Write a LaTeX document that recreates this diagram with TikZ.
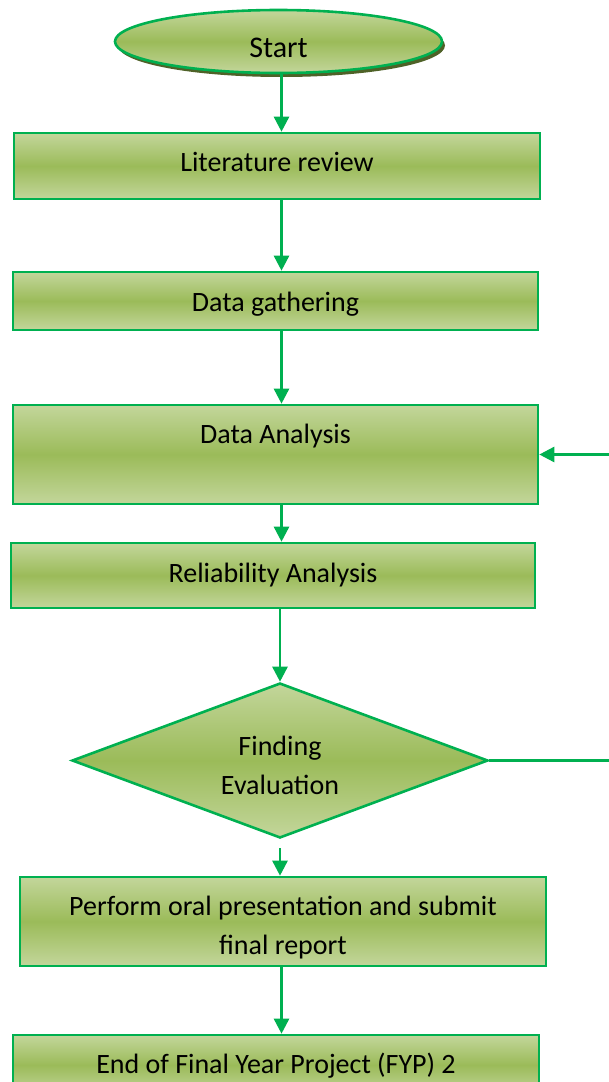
\documentclass[tikz,border=0pt]{standalone}
\usepackage{fontspec}
\setmainfont{Carlito}
\usetikzlibrary{arrows.meta,positioning,shapes.geometric,shadows}
\definecolor{fygreen}{RGB}{0,176,80}
\definecolor{lightolive}{RGB}{195,214,155}
\definecolor{olive}{RGB}{155,187,89}
\definecolor{darkolive}{RGB}{79,98,40}
\tikzset{olivefill/.style={top color=lightolive, bottom color=lightolive, middle color=olive}}
\tikzset{stepbox/.style={rectangle, draw=fygreen, line width=2.6pt, olivefill, inner sep=0pt, font=\fontsize{28}{39}\selectfont}}
\tikzset{startbox/.style={ellipse, draw=fygreen, line width=2.6pt, olivefill, inner sep=0pt, font=\fontsize{30}{36}\selectfont, drop shadow={shadow xshift=3pt, shadow yshift=-4pt, fill=darkolive, opacity=1}}}
\tikzset{decision/.style={diamond, aspect=2.68, draw=fygreen, line width=2.6pt, olivefill, inner sep=0pt, align=center, font=\fontsize{28}{39}\selectfont}}
\tikzset{arr/.style={draw=fygreen, line width=2.6pt, -{Triangle[width=15pt,length=15pt]}}}

\begin{document}
\begin{tikzpicture}[x=1pt,y=-1pt]
	\useasboundingbox (0,0) rectangle (609,1082);
	\clip (0,0) rectangle (609,1082);

	\node[startbox, minimum width=327pt, minimum height=63pt, text height=31pt, text depth=0pt] (start) at (278.5,41.5){Start};

	\node[stepbox, minimum width=526pt, text height=38pt, text depth=28pt] (lit) at (277,166){Literature review};
	\node[stepbox, minimum width=525pt, text height=39pt, text depth=19pt] (gath) at (275.5,301){Data gathering};
	\node[stepbox, minimum width=525pt, text height=38pt, text depth=61pt] (ana) at (275.5,454.5){Data Analysis};
	\node[stepbox, minimum width=524pt, text height=39pt, text depth=26pt] (rel) at (273,575.5){Reliability Analysis};

	\node[decision, minimum width=416pt, minimum height=155pt, text height=67pt, text depth=0pt] (eval) at (280,760.5){Finding\\Evaluation};

	\node[stepbox, align=center, minimum width=526pt, text height=77pt, text depth=12pt] (perf) at (283,921.5){Perform oral presentation and submit\\final report};
	\node[stepbox, minimum width=526pt, text height=38pt, text depth=22pt] (fin) at (276,1065){End of Final Year Project (FYP) 2};

	% main line of arrows
	\coordinate (ax) at (281.5,0);
	\draw[arr] (start.south -| ax) -- (lit.north -| ax);
	\draw[arr] (lit.south -| ax) -- (gath.north -| ax);
	\draw[arr] (gath.south -| ax) -- (ana.north -| ax);
	\draw[arr] (ana.south -| ax) -- (rel.north -| ax);
	\draw[arr] (rel.south -| eval.north) -- (eval.north);
	\draw[arr, shorten <=9pt] (eval.south) -- (perf.north -| eval.south);
	\draw[arr] (perf.south -| ax) -- (fin.north -| ax);

	% loop back to the analysis
	\coordinate (rx) at (614,0);
	\draw[arr] (eval.east) -- (eval.east -| rx) -- (ana.east -| rx) -- (ana.east);
\end{tikzpicture}
\end{document}
